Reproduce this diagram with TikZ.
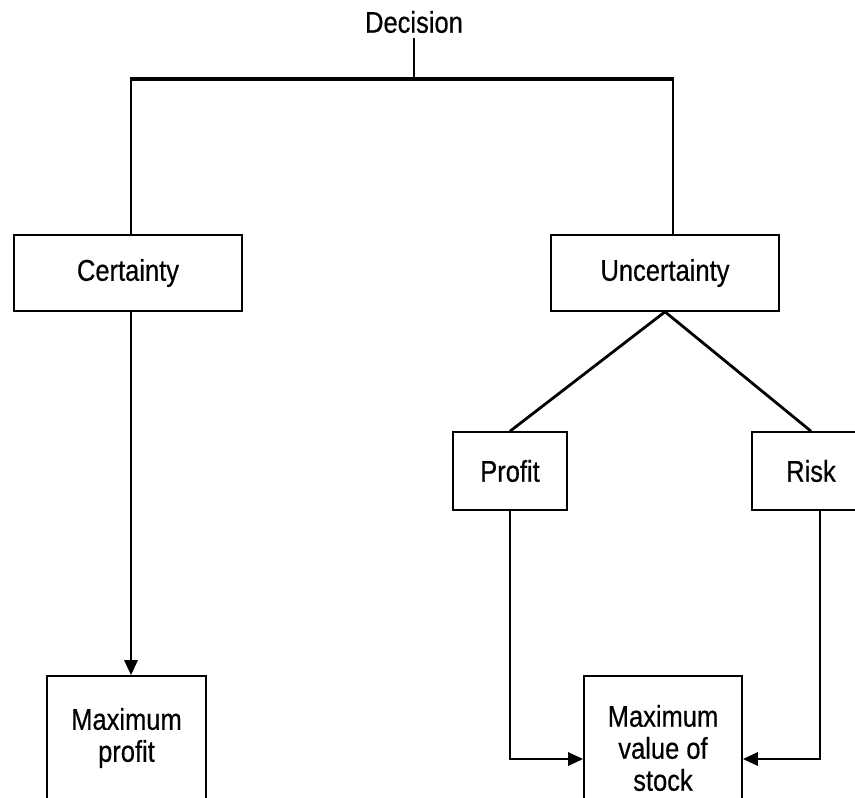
\documentclass[tikz,border=0pt]{standalone}
\usepackage{fontspec}
\setmainfont[FakeStretch=0.85,FakeBold=0.5]{Liberation Sans}
\usetikzlibrary{arrows.meta}
\begin{document}
\begin{tikzpicture}[x=1pt,y=-1pt,
  box/.style={draw, line width=1.6pt, inner sep=0pt, align=center, font=\fontsize{30}{32}\selectfont},
  lbl/.style={font=\fontsize{30}{32}\selectfont, inner sep=5pt},
  conn/.style={line width=2.8pt},
  arr/.style={conn, -{Triangle[length=15pt,width=13pt]}}
]
\useasboundingbox (0,0) rectangle (855,798);
\clip (0,0) rectangle (855,798);
\fill[white] (0,0) rectangle (855,798);

\node[lbl] (dec) at (414,22) {Decision};
\node[box, minimum width=228, minimum height=76] (cert) at (128,273) {Certainty};
\node[box, minimum width=228, minimum height=76] (unc) at (665,273) {Uncertainty};
\node[box, minimum width=114, minimum height=78] (prof) at (510,471) {Profit};
\node[box, minimum width=118, minimum height=78] (risk) at (811,471) {Risk};
\node[box, minimum width=159, minimum height=124] (mp) at (126.5,738) {Maximum\\profit};
\node[box, minimum width=158, minimum height=144] (mv) at (663,748) {Maximum\\value of\\stock};

\coordinate (jm) at (414,79);
\coordinate (jl) at (131,79);
\coordinate (jr) at (673,79);
\coordinate (rx) at (820,0);
\coordinate (lev) at (0,759);

\draw[line width=1.6pt] (dec.south) -- (jm);
\draw[line width=3.4pt] ([xshift=-1.4pt]jl) -- ([xshift=1.4pt]jr);
\draw[conn] (jl) -- (jl |- cert.north);
\draw[conn] (jr) -- (jr |- unc.north);
\draw[arr] (jl |- cert.south) -- (jl |- mp.north);
\draw[conn] (unc.south) -- (prof.north);
\draw[conn] (unc.south) -- (risk.north);
\draw[arr] (prof.south) |- (mv.west |- lev);
\draw[arr] (risk.south -| rx) |- (mv.east |- lev);
\end{tikzpicture}
\end{document}
